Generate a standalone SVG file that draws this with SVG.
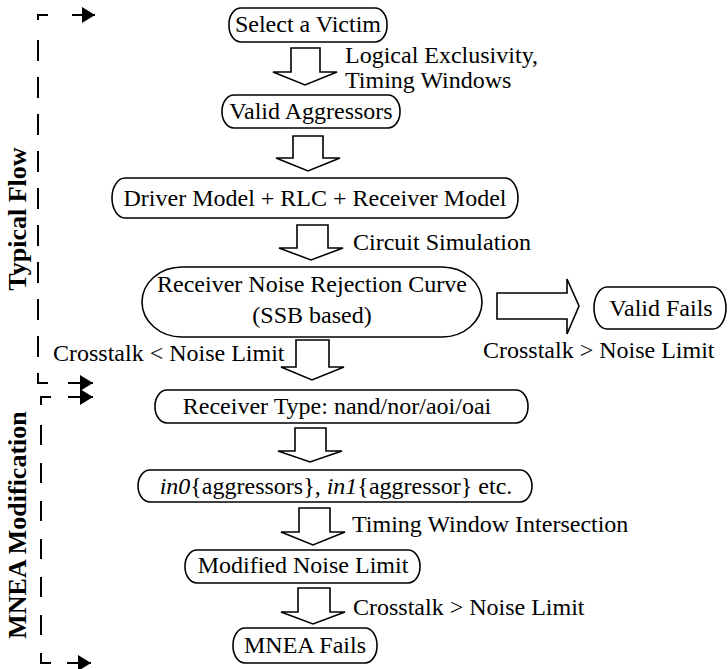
<svg xmlns="http://www.w3.org/2000/svg" width="728" height="669" viewBox="0 0 728 669">
<defs>
<marker id="ah" markerWidth="13" markerHeight="16" refX="13" refY="8" orient="auto" markerUnits="userSpaceOnUse">
<path d="M0,0 L13,8 L0,16 Z" fill="#000"/>
</marker>
<style>
text{font-family:"Liberation Serif","Times New Roman",serif;font-size:24px;fill:#000}
.c{text-anchor:middle}
.b{font-weight:bold;font-size:26px}
.n{fill:#fff;stroke:#000;stroke-width:1.6}
.ba{fill:#fff;stroke:#000;stroke-width:1.6;stroke-linejoin:miter}
.br{fill:none;stroke:#000;stroke-width:2}
.ar{fill:none;stroke:#000;stroke-width:2}
</style>
</defs>
<rect width="728" height="669" fill="#fff"/>

<g id="brackets">
<polyline class="br" points="48,15 38,15 38,20"/>
<line class="br" x1="38" y1="40" x2="38" y2="358" stroke-dasharray="21 16"/>
<polyline class="br" points="38,373 38,383 48,383"/>
<polyline class="br" points="51,397 41,397 41,405"/>
<line class="br" x1="41" y1="425" x2="41" y2="635" stroke-dasharray="20 18"/>
<polyline class="br" points="41,653 41,663 51,663"/>
<text class="b c" transform="translate(26,219) rotate(-90)">Typical Flow</text>
<text class="b c" transform="translate(26,525) rotate(-90)">MNEA Modification</text>
</g>

<g id="connectors">
<line class="ar" x1="72" y1="15" x2="95" y2="15" marker-end="url(#ah)"/>
<line class="ar" x1="68" y1="383" x2="93" y2="383" marker-end="url(#ah)"/>
<line class="ar" x1="68" y1="397" x2="93" y2="397" marker-end="url(#ah)"/>
<line class="ar" x1="67" y1="663" x2="91" y2="663" marker-end="url(#ah)"/>
<polygon class="ba" points="291,48 320,48 320,72 337,72 305,85 273,72 291,72"/>
<polygon class="ba" points="293,136 323,136 323,158 340,158 308,171 276,158 293,158"/>
<polygon class="ba" points="297,225 328,225 328,248 343,248 311,260 279,248 297,248"/>
<polygon class="ba" points="296,340 329,340 329,367 344,367 312,380 281,367 296,367"/>
<polygon class="ba" points="295,428 326,428 326,451 342,451 310,462 278,451 295,451"/>
<polygon class="ba" points="299,508 330,508 330,532 345,532 313,545 281,532 299,532"/>
<polygon class="ba" points="298,588 330,588 330,612 345,612 313,624 281,612 298,612"/>
<polygon class="ba" points="497,293 567,293 567,279 579,306 567,334 567,319 497,319"/>
<text x="345" y="63">Logical Exclusivity,</text>
<text x="345" y="88">Timing Windows</text>
<text x="353" y="250">Circuit Simulation</text>
<text x="53" y="361">Crosstalk &lt; Noise Limit</text>
<text x="483" y="358">Crosstalk &gt; Noise Limit</text>
<text x="352" y="532">Timing Window Intersection</text>
<text x="353" y="615">Crosstalk &gt; Noise Limit</text>
</g>

<g id="n1"><rect class="n" x="229" y="8" width="158" height="34" rx="12" ry="16"/><text class="c" x="308" y="32">Select a Victim</text></g>
<g id="n2"><rect class="n" x="222" y="95" width="178" height="33" rx="12" ry="16"/><text class="c" x="311" y="119">Valid Aggressors</text></g>
<g id="n3"><rect class="n" x="112" y="178" width="406" height="40" rx="13" ry="20"/><text class="c" x="315" y="206">Driver Model + RLC + Receiver Model</text></g>
<g id="n4"><rect class="n" x="142" y="267" width="340" height="70" rx="40" ry="35"/><text class="c" x="312" y="292">Receiver Noise Rejection Curve</text><text class="c" x="312" y="323">(SSB based)</text></g>
<g id="n5"><rect class="n" x="594" y="287" width="132" height="42" rx="13" ry="21"/><text class="c" x="661" y="316">Valid Fails</text></g>
<g id="n6"><rect class="n" x="155" y="390" width="373" height="33" rx="12" ry="16"/><text class="c" x="337" y="414">Receiver Type: nand/nor/aoi/oai</text></g>
<g id="n7"><rect class="n" x="138" y="470" width="394" height="32" rx="12" ry="16"/><text class="c" x="336" y="494"><tspan font-style="italic">in0</tspan>{aggressors}, <tspan font-style="italic">in1</tspan>{aggressor} etc.</text></g>
<g id="n8"><rect class="n" x="185" y="550" width="235" height="33" rx="12" ry="16"/><text class="c" x="303" y="573">Modified Noise Limit</text></g>
<g id="n9"><rect class="n" x="233" y="628" width="144" height="35" rx="12" ry="17"/><text class="c" x="305" y="653">MNEA Fails</text></g>
</svg>
